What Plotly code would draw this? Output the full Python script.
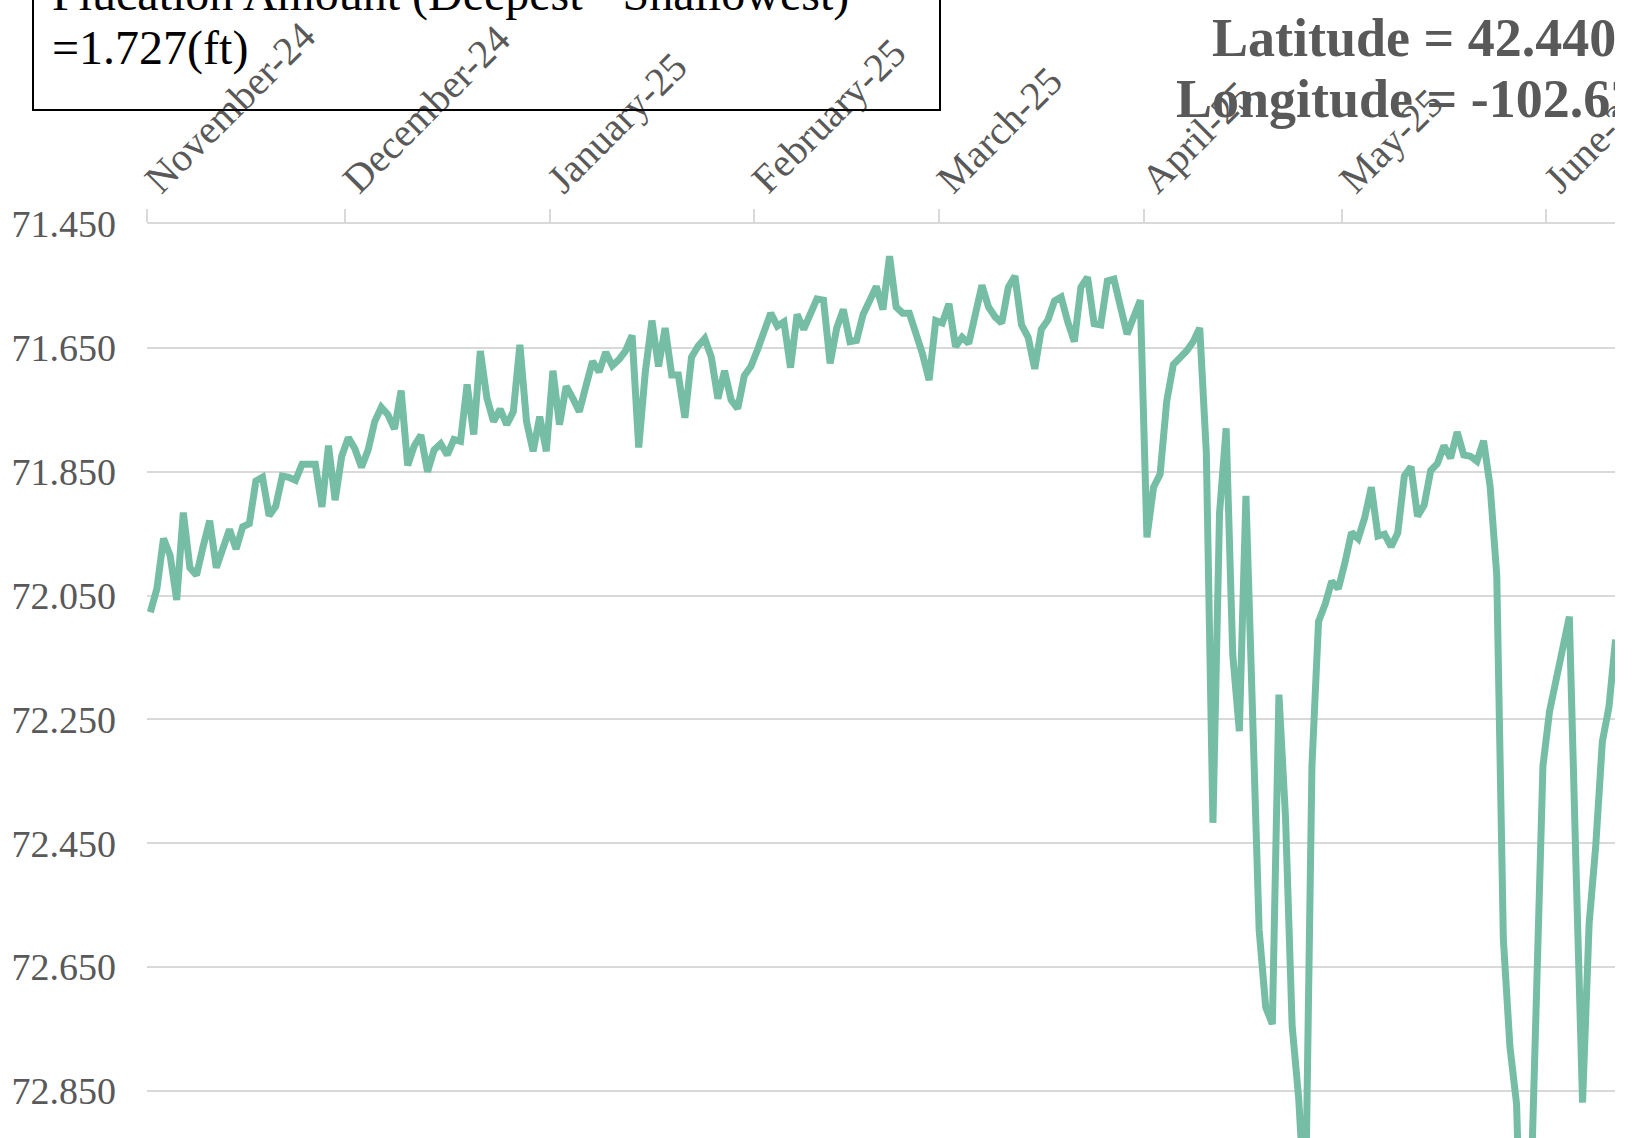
import pandas as pd
import plotly.graph_objects as go

# ---------------- data ----------------
series_start = "2024-11-01 12:00"
depth_ft = [
    72.077, 72.039, 71.958, 71.985, 72.057, 71.916, 72.005, 72.017, 71.971, 71.929,
    72.005, 71.973, 71.943, 71.975, 71.939, 71.934, 71.865, 71.859, 71.921, 71.906,
    71.857, 71.859, 71.864, 71.838, 71.838, 71.838, 71.907, 71.808, 71.896, 71.825,
    71.795, 71.813, 71.843, 71.815, 71.769, 71.746, 71.758, 71.781, 71.719, 71.840,
    71.808, 71.791, 71.850, 71.815, 71.805, 71.823, 71.798, 71.801, 71.709, 71.790,
    71.655, 71.731, 71.769, 71.749, 71.774, 71.753, 71.645, 71.769, 71.817, 71.761,
    71.817, 71.687, 71.774, 71.712, 71.731, 71.753, 71.712, 71.672, 71.689, 71.657,
    71.679, 71.669, 71.655, 71.630, 71.811, 71.689, 71.606, 71.680, 71.618, 71.694,
    71.694, 71.763, 71.665, 71.647, 71.635, 71.665, 71.732, 71.687, 71.734, 71.748,
    71.695, 71.680, 71.653, 71.623, 71.594, 71.615, 71.608, 71.682, 71.596, 71.620,
    71.594, 71.571, 71.573, 71.675, 71.618, 71.588, 71.640, 71.638, 71.596, 71.576,
    71.551, 71.588, 71.502, 71.584, 71.594, 71.594, 71.626, 71.660, 71.702, 71.606,
    71.610, 71.579, 71.648, 71.633, 71.643, 71.601, 71.549, 71.584, 71.600, 71.610,
    71.552, 71.534, 71.613, 71.633, 71.684, 71.620, 71.605, 71.574, 71.568, 71.608,
    71.640, 71.552, 71.536, 71.611, 71.613, 71.542, 71.539, 71.584, 71.628, 71.600,
    71.573, 71.956, 71.875, 71.854, 71.736, 71.677, 71.667, 71.655, 71.640, 71.618,
    71.820, 72.417, 71.917, 71.780, 72.145, 72.269, 71.889, 72.232, 72.590, 72.715,
    72.742, 72.210, 72.409, 72.745, 72.863, 73.050, 72.325, 72.092, 72.064, 72.027,
    72.039, 71.997, 71.948, 71.958, 71.924, 71.875, 71.954, 71.951, 71.971, 71.949,
    71.857, 71.842, 71.922, 71.904, 71.848, 71.837, 71.808, 71.828, 71.786, 71.823,
    71.825, 71.833, 71.800, 71.874, 72.017, 72.605, 72.779, 72.871, 73.229, 73.080,
    72.737, 72.325, 72.237, 72.187, 72.145, 72.084, 72.484, 72.869, 72.579, 72.454,
    72.286, 72.230, 72.121,
]
dates = pd.date_range(series_start, periods=len(depth_ft), freq="D")

month_ticks = list(pd.date_range("2024-11-01", "2025-06-01", freq="MS"))
month_labels = [d.strftime("%B-%y") for d in month_ticks]
y_ticks = [71.45, 71.65, 71.85, 72.05, 72.25, 72.45, 72.65, 72.85]
y_labels = [f"{v:.3f}" for v in y_ticks]

box_line1 = "Flucation Amount (Deepest - Shallowest)"
box_line2 = "=1.727(ft)"
lat_text = "Latitude = 42.4406"
lon_text = "Longitude = -102.62"

# ---------------- layout geometry ----------------
W, H = 1615, 1138
L, T = 147, 224
PW, PH = W - L, H - T


def px(x):
    return (x - L) / PW


def py(y):
    return (H - y) / PH


SERIF = "Liberation Serif, Times New Roman, serif"
GREY = "#595959"
GRID = "#D9D9D9"
LINE = "#76BDA6"

fig = go.Figure()
fig.add_trace(go.Scatter(
    x=dates, y=depth_ft, mode="lines",
    line=dict(color=LINE, width=7),
    showlegend=False, hoverinfo="x+y",
))

fig.update_layout(
    width=W, height=H, autosize=False,
    margin=dict(l=L, r=0, t=T, b=0, pad=0, autoexpand=False),
    paper_bgcolor="white", plot_bgcolor="white",
    font=dict(family=SERIF, color=GREY),
    xaxis=dict(
        side="top", automargin=False,
        range=["2024-11-01 00:00", "2025-06-11 10:00"],
        tickmode="array", tickvals=month_ticks, ticktext=month_labels,
        tickangle=-45, tickfont=dict(size=40, color=GREY, family=SERIF),
        ticks="outside", ticklen=13, tickwidth=2, tickcolor=GRID,
        ticklabelstandoff=-8, ticklabeloverflow="allow",
        showline=True, linecolor=GRID, linewidth=2,
        showgrid=False, zeroline=False,
    ),
    yaxis=dict(
        automargin=False,
        range=[72.926, 71.45],
        tickmode="array", tickvals=y_ticks, ticktext=y_labels,
        tickfont=dict(size=38, color=GREY, family=SERIF),
        ticks="", ticklabelstandoff=30,
        showgrid=True, gridcolor=GRID, gridwidth=2,
        showline=False, zeroline=False,
    ),
)

fig.add_shape(type="rect", xref="paper", yref="paper",
              x0=px(33), x1=px(940), y0=py(110), y1=py(-30),
              line=dict(color="black", width=2), fillcolor="rgba(0,0,0,0)", layer="above")

ann_common = dict(xref="paper", yref="paper", showarrow=False, xanchor="left", yanchor="middle", align="left")
fig.add_annotation(x=px(50), y=py(10 - 0.3375 * 48), text=box_line1,
                   font=dict(size=48, color="black", family=SERIF), **ann_common)
fig.add_annotation(x=px(50), y=py(64 - 0.3375 * 48), text=box_line2,
                   font=dict(size=48, color="black", family=SERIF), **ann_common)
fig.add_annotation(x=px(1210), y=py(56 - 0.3375 * 54), text=f"<b>{lat_text}</b>",
                   font=dict(size=54, color=GREY, family=SERIF), **ann_common)
fig.add_annotation(x=px(1174), y=py(117 - 0.3375 * 54), text=f"<b>{lon_text}</b>",
                   font=dict(size=54, color=GREY, family=SERIF), **ann_common)

fig.write_html("out.html", config={"displayModeBar": False, "responsive": False},
               post_script="document.body.style.margin='0px';")
